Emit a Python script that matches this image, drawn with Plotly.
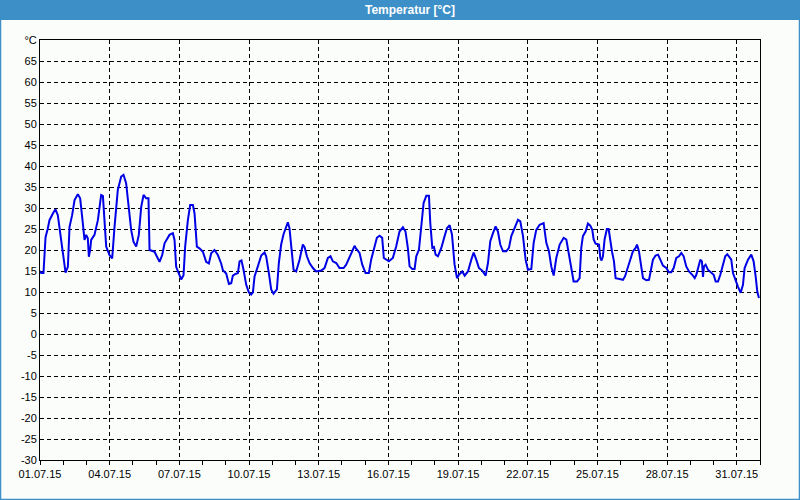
import pandas as pd
import plotly.graph_objects as go

# hours since 01.07.2015 00:00 and temperature [°C]
hours_a = [0, 1.2, 3.6, 5.7, 8.1, 9.8, 13.3, 16.0, 18.4, 20.8, 23.6, 26.4, 28.8, 30.5, 33.2, 35.7, 39.1, 41.5,
           44.3, 46.0, 47.7, 49.4, 50.5, 51.8, 52.9, 56.3, 59.8, 63.2, 65.0, 66.7, 68.4, 71.8, 74.6, 77.0, 80.4,
           83.9, 86.3, 89.0, 91.8, 94.2, 96.6, 99.4, 102.1, 104.6, 107.0, 109.7, 112.1, 113.2, 118.3, 120.7,
           123.5, 126.3, 128.7, 133.8, 137.3, 139.0, 140.7, 143.5, 145.9, 148.3, 150.0, 152.8, 155.2, 158.0,
           159.7, 162.1, 164.8, 168.3, 171.7, 174.5, 176.9, 180.3, 183.8, 187.2, 189.0, 192.4, 195.2]
temp_a = [15.0, 14.5, 14.5, 23, 25.2, 27.1, 28.7, 29.7, 28.3, 24, 18.4, 14.6, 16, 25.5, 28.3, 31.9, 33.3, 32.3,
          26.3, 22.4, 23.6, 22.8, 18.4, 20, 22.4, 23.6, 27.1, 33.1, 32.9, 27.1, 20.8, 18.8, 18, 25.5, 34.3,
          37.5, 37.9, 35.9, 30.3, 24.8, 22, 20.8, 23.6, 30.3, 33.1, 32.3, 32.3, 20, 19.6, 18.4,
          17.2, 18.8, 21.6, 23.6, 24, 22.4, 16, 14.4, 13, 14, 20.8, 27.1, 30.7, 30.7,
          28.7, 20.8, 20.4, 19.6, 17.2, 16.8, 19.2, 20, 18.8, 16.8, 15.2, 14.4, 11.9]

hours_b = [197.6, 199.3, 202.0, 204.5, 206.2, 208.2, 210.3, 213.1, 215.8, 218.2, 220.0, 221.7, 225.1, 228.6,
           232.0, 233.7, 236.5, 238.9, 241.3, 244.8, 246.8, 249.2, 251.6, 254.4, 256.1, 257.8, 260.3, 262.0,
           264.7, 268.2, 271.6, 273.4, 275.8, 278.5, 282.0, 285.4, 290.6, 294.0, 297.5, 300.2, 302.6, 306.1,
           309.5, 313.7, 316.4, 319.9, 322.6, 325.0, 326.7, 330.2, 333.0, 336.4, 339.8, 342.2, 345.7, 348.1,
           350.9, 353.6, 355.3, 357.8, 360.5, 364.6, 368.1, 371.5, 375.0, 377.7, 380.1, 381.9]
temp_b = [12.1, 13.9, 14.3, 14.5, 17.3, 17.5, 15.3, 11.7, 9.9, 9.4, 9.9, 13.7, 16.1, 18.7,
          19.4, 18.5, 14.5, 10.6, 9.6, 10.6, 16.9, 21.3, 23.7, 25.6, 26.6, 25.2, 19.3, 15.3,
          14.9, 17.7, 21.3, 20.7, 18.5, 16.9, 15.7, 14.9, 15.1, 15.7, 18.1, 18.5, 17.3, 16.9,
          15.7, 15.7, 16.5, 18.1, 19.7, 21, 20.3, 19.3, 16.5, 14.5, 14.5, 17.7, 20.9, 22.9,
          23.4, 22.9, 18.1, 17.7, 17.3, 18.1, 20.9, 24.4, 25.4, 24.4, 20.5, 16.1]

hours_c = [384.7, 387.1, 388.8, 391.6, 394.0, 396.4, 399.2, 401.9, 403.3, 405.4, 407.1, 408.8, 411.2, 414.7,
           418.1, 420.5, 423.3, 425.7, 428.4, 430.9, 432.9, 436.4, 438.8, 442.2, 445.7, 448.1, 450.8, 453.6,
           457.0, 460.5, 462.9, 465.3, 468.1, 470.8, 473.2, 475.6, 478.4, 481.8, 484.6, 487.0, 490.4, 493.9,
           496.3, 499.1, 501.8, 504.2, 507.7, 510.1, 512.8, 516.3, 520.4, 523.2, 525.9, 528.3, 530.8, 533.5,
           537.0, 541.1, 543.9, 546.6, 549.0, 551.4, 554.9, 557.6, 559.3]
temp_c = [15.5, 15.5, 18.5, 20.1, 25.6, 31.2, 32.9, 32.9, 26.4, 20.5, 20.7, 18.9, 18.5, 20.5,
          23.3, 25.2, 25.9, 23.7, 16.5, 13.3, 14.1, 14.9, 13.9, 14.9, 17.7, 19.4, 17.7, 15.7,
          15.1, 13.9, 16.9, 22.1, 24, 25.6, 24.4, 21.3, 19.7, 19.7, 20.5, 23.3, 25.2, 27.2,
          26.8, 23.3, 17.7, 15.3, 15.5, 21.7, 24.8, 26, 26.4, 21.7, 19.7, 16.1, 13.9, 18.1,
          21.3, 22.9, 22.5, 18.9, 15.3, 12.5, 12.5, 13.3, 20.5]

hours_d = [561.0, 563.8, 566.2, 568.6, 570.7, 572.1, 574.1, 577.6, 579.0, 580.3, 581.7, 583.4, 585.8, 587.6,
           589.3, 591.0, 593.1, 594.8, 598.9, 602.4, 604.5, 607.5, 610.0, 612.7, 615.5, 616.9, 618.9, 620.6,
           623.1, 626.5, 629.3, 631.7, 633.4, 636.1, 638.6, 641.0, 643.7, 647.2, 649.9, 652.3, 654.8, 657.5,
           660.3, 662.7, 665.1, 667.8, 670.6, 674.0, 676.5, 678.2, 680.6, 682.3, 684.0, 685.1, 686.1, 687.8,
           690.2, 693.7, 696.1, 698.2, 700.6, 703.0, 705.7, 708.1, 710.2, 712.6, 714.3, 716.1, 718.5, 721.2,
           724.0, 726.4, 728.1, 731.6, 735.0, 737.4, 739.5, 741.2, 742.9]
temp_d = [23.3, 24.4, 26.3, 25.8, 24.8, 22.5, 21.5, 21.3, 18.1, 17.5, 18.5, 22.5, 25, 25,
          22.1, 19.7, 17.3, 13.3, 13.1, 12.9, 13.7, 16.1, 18.1, 19.7, 20.5, 21.3, 19.7, 16.9,
          13.3, 12.8, 12.9, 15.7, 17.7, 18.7, 18.9, 17.7, 16.3, 15.7, 14.7, 14.7, 15.7, 18.1,
          18.5, 19.3, 18.5, 16.1, 14.9, 14.1, 13.3, 14.1, 16.1, 17.7, 17.3, 13.6, 16.1, 16.5,
          15.3, 14.5, 14.1, 12.5, 12.5, 14.1, 16.5, 18.5, 19.0, 18.1, 17.7, 14.5, 12.9, 11.3,
          9.8, 11.7, 15.7, 17.7, 18.9, 17.3, 13.7, 10.1, 8.6]

y_ticks = list(range(-30, 75, 5))
y_labels = [str(v) for v in y_ticks[:-1]] + ["°C"]
title_text = "<b>Temperatur [°C]</b>"

hours = hours_a + hours_b + hours_c + hours_d
temps = temp_a + temp_b + temp_c + temp_d
times = pd.Timestamp("2015-07-01") + pd.to_timedelta(hours, unit="h")

BLUE_BAR = "#3D8FC7"
BG = "#FBFDFB"
W, H = 800, 500
L, R, T, B = 40, 40, 40, 40
pw, ph = W - L - R, H - T - B


def px_x(x):
    return (x - L) / pw


def px_y(y):
    return (H - B - y) / ph


fig = go.Figure()
fig.add_trace(go.Scatter(x=times, y=temps, mode="lines",
                         line=dict(color="#0000E6", width=2), hoverinfo="skip"))

font = dict(family="Liberation Sans, Arial, sans-serif", size=11, color="black")

fig.update_layout(
    width=W, height=H,
    margin=dict(l=L, r=R, t=T, b=B),
    paper_bgcolor=BG, plot_bgcolor=BG,
    showlegend=False,
    font=font,
    xaxis=dict(
        range=["2015-07-01 00:00", "2015-08-01 00:00"],
        tick0="2015-07-01", dtick=3 * 86400000,
        tickformat="%d.%m.%y",
        showline=True, linecolor="black", linewidth=1, mirror=True,
        showgrid=True, gridcolor="black", gridwidth=1, griddash="4px,3px",
        ticks="outside", ticklen=4, tickcolor="black",
        minor=dict(dtick=86400000, ticks="outside", ticklen=4, tickcolor="black", showgrid=False),
        zeroline=False, tickfont=font,
    ),
    yaxis=dict(
        range=[-30, 70],
        tickvals=y_ticks, ticktext=y_labels,
        showline=True, linecolor="black", linewidth=1, mirror=True,
        showgrid=True, gridcolor="black", gridwidth=1, griddash="4px,3px",
        ticks="", zeroline=False, tickfont=font,
    ),
    shapes=[
        dict(type="rect", xref="paper", yref="paper",
             x0=px_x(0), x1=px_x(W), y0=px_y(20), y1=px_y(0),
             fillcolor=BLUE_BAR, line=dict(width=0), layer="above"),
        dict(type="rect", xref="paper", yref="paper",
             x0=px_x(0.5), x1=px_x(W - 0.5), y0=px_y(H - 0.5), y1=px_y(0.5),
             line=dict(color=BLUE_BAR, width=1.5), fillcolor="rgba(0,0,0,0)", layer="above"),
    ],
    annotations=[
        dict(text=title_text, xref="paper", yref="paper", x=px_x(410), y=px_y(10),
             xanchor="center", yanchor="middle", showarrow=False,
             font=dict(family="Liberation Sans, Arial, sans-serif", size=12, color="white")),
    ],
)

fig.write_html("out.html", config={"displayModeBar": False},
               post_script="document.body.style.margin='0';document.body.style.padding='0';"
                           "document.body.style.overflow='hidden';")
